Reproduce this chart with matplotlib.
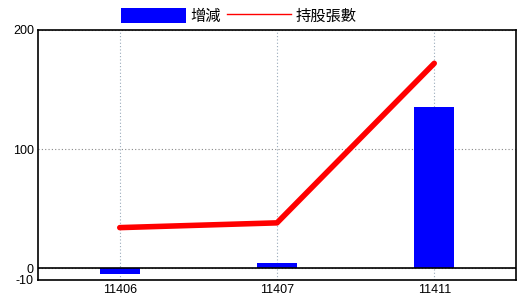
import matplotlib
matplotlib.use("Agg")
import matplotlib.pyplot as plt
from matplotlib.patches import Patch
from matplotlib.lines import Line2D
import numpy as np

categories = ["11406", "11407", "11411"]
change = [-5, 4, 135]
holdings = [34, 38, 172]
yticks = [-10, 0, 100, 200]

plt.rcParams['font.family'] = ['Noto Sans CJK TC', 'DejaVu Sans']

fig = plt.figure(figsize=(5.2, 3.0), dpi=100)
ax = fig.add_axes([38/520, 20/300, (516-38)/520, (280-30)/300])
x = np.arange(len(categories))

ax.bar(x, change, width=0.255, color='#0000FF', zorder=2)
ax.plot(x, holdings, color='#FF0000', linewidth=4, zorder=3,
        solid_capstyle='round')

ax.set_xlim(-0.52, 2.52)
ax.set_ylim(-10, 200)
ax.set_yticks(yticks)
ax.set_yticklabels([str(v) for v in yticks], family=['Liberation Sans'], fontsize=9)
ax.set_xticks(x)
ax.set_xticklabels(categories, family=['Liberation Sans'], fontsize=9)
ax.tick_params(length=0, pad=3)
ax.axhline(0, color='black', linewidth=1.2, zorder=4)
ax.yaxis.grid(True, linestyle=(0, (1, 2)), color='#888888', linewidth=0.8)
ax.xaxis.grid(True, linestyle=(0, (1, 2)), color='#99AABB', linewidth=0.8)
ax.set_axisbelow(True)
for s in ax.spines.values():
    s.set_linewidth(1.2)
    s.set_color('black')

handles = [Patch(facecolor='#0000FF', edgecolor='none'),
           Line2D([0], [0], color='#FF0000', linewidth=1)]
labels = ['增減', '持股張數']
fig.legend(handles, labels, loc='center', bbox_to_anchor=(239/520, 1 - 16/300), ncol=2,
           frameon=False, fontsize=11, handlelength=4.2, handleheight=1.1,
           handletextpad=0.3, columnspacing=0.4, borderpad=0, borderaxespad=0)

fig.savefig('out.png', dpi=100)
